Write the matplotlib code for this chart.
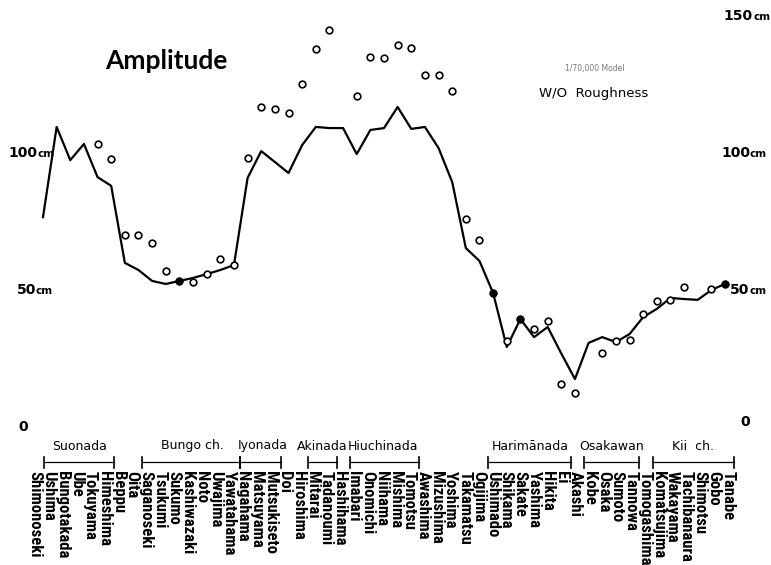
import numpy as np
import matplotlib
matplotlib.use("Agg")
from matplotlib import pyplot as plt
from matplotlib import transforms
from matplotlib import font_manager

# stations along the coast, west to east
stations = ["Shimonoseki", "Ushima", "Bungotakada", "Ube", "Tokuyama", "Himeshima",
            "Beppu", "Oita", "Saganoseki", "Tsukumi", "Sukumo", "Kashiwazaki", "Noto",
            "Uwajima", "Yawatahama", "Nagahama", "Matsuyama", "Mutsukiseto", "Doi",
            "Hiroshima", "Mitarai", "Tadanoumi", "Hashihama", "Imabari", "Onomichi",
            "Niihama", "Mishima", "Tomotsu", "Awashima", "Mizushima", "Yoshima",
            "Takamatsu", "Ogijima", "Ushimado", "Shikama", "Sakate", "Yashima", "Hikita",
            "Ei", "Akashi", "Kobe", "Osaka", "Sumoto", "Tannowa", "Tomogashima",
            "Komatsujima", "Wakayama", "Tachibanaura", "Shimotsu", "Gobo", "Tanabe"]

# observed amplitude (cm) - solid line
observed = [76.6, 109.5, 97.4, 103.3, 91.2, 88.0, 59.9, 57.3, 53.3, 52.2,
            53.3, 54.4, 55.8, 57.3, 59.1, 90.9, 100.7, 96.7, 92.7, 102.9,
            109.5, 109.1, 109.1, 99.6, 108.4, 109.1, 116.8, 108.8, 109.5, 101.8,
            89.4, 65.3, 60.6, 48.9, 29.2, 39.4, 32.8, 36.5, 26.8, 17.5,
            30.7, 32.8, 31.0, 33.9, 40.1, 43.1, 47.1, 46.7, 46.4, 50.0, 52.2]

# model amplitude (cm) without roughness - open circles
nan = np.nan
model = [nan, nan, nan, nan, 103.3, 97.8, 70.1, 70.1, 67.2, 56.9,
         53.3, 52.9, 55.8, 61.3, 59.1, 98.2, 116.8, 116.1, 114.6, 125.2,
         138.0, 144.9, nan, 120.8, 135.0, 134.7, 139.4, 138.3, 128.5, 128.5,
         122.6, 75.9, 68.2, 48.9, 31.4, 39.4, 35.8, 38.7, 15.7, 12.4,
         nan, 27.0, 31.4, 31.8, 41.2, 46.0, 46.4, 51.1, nan, 50.4, 52.2]

# stations where model and observation coincide (drawn as black dots)
coincide = ["Sukumo", "Ushimado", "Sakate", "Tanabe"]

groups = ["Suonada", "Bungo ch.", "Iyonada", "Akinada", "Hiuchinada",
          "Harimānada", "Osakawan", "Kii  ch."]

W, H = 771, 565

bold_fonts = {f.name for f in font_manager.fontManager.ttflist if f.weight in (700, "bold")}
all_fonts = {f.name for f in font_manager.fontManager.ttflist}


def pick(pool, *names):
    for n in names:
        if n in pool:
            return n
    return "DejaVu Sans"


narrow = pick(bold_fonts, "Liberation Sans Narrow", "Roboto Condensed", "Archivo Narrow",
              "PT Sans Narrow", "Fira Sans Condensed", "Open Sans Condensed")
if narrow == "DejaVu Sans":
    narrow = pick(all_fonts, "Liberation Sans Narrow", "Roboto Condensed",
                  "Archivo Narrow", "PT Sans Narrow")
title_font = pick(bold_fonts, "Jost", "Futura", "League Spartan", "Lato")
label_size = 12 if narrow != "DejaVu Sans" else 8.5


def dx(px):
    return (px - 43) / 13.64


def dy(py):
    return (427 - py) / 2.74


fig = plt.figure(figsize=(W / 100, H / 100), dpi=100)
ax = fig.add_axes([0, 0, 1, 1])
ax.set_xlim(dx(0), dx(W))
ax.set_ylim(dy(H), dy(0))
ax.axis("off")

x = np.arange(len(stations))
ax.plot(x, observed, color="black", lw=1.6, zorder=2)
ax.plot(x, model, linestyle="none", marker="o", ms=4.8, mfc="white",
        mec="black", mew=1.2, zorder=3)
ci = [stations.index(s) for s in coincide]
ax.plot(ci, [model[i] for i in ci], linestyle="none", marker="o", ms=4.5,
        color="black", zorder=4)

# y scale labels
bt = transforms.blended_transform_factory(ax.transAxes, ax.transData)
num_kw = dict(fontsize=10, fontweight="bold", family="DejaVu Sans",
              transform=bt, va="center")
cm_kw = dict(fontsize=7.5, fontweight="bold", family="DejaVu Sans",
             transform=bt, va="center")
for val, split in [(100, 37), (50, 36)]:
    ax.text(split / W, val, str(val), ha="right", **num_kw)
    ax.text(split / W, val - 0.5, "cm", ha="left", **cm_kw)
ax.text(23 / W, 0, "0", ha="center", **num_kw)
for val, split in [(150, 753), (100, 750), (50, 749)]:
    ax.text(split / W, val, str(val), ha="right", **num_kw)
    ax.text(split / W, val - 0.5, "cm", ha="left", **cm_kw)
ax.text(745 / W, 2, "0", ha="center", **num_kw)

# titles
ax.text(dx(166), dy(61), "Amplitude", ha="center", va="center",
        fontsize=19, fontweight="bold", family=title_font)
ax.text(dx(595), dy(69), "1/70,000 Model", ha="center", va="center",
        fontsize=5.5, color="#777777", family="DejaVu Sans")
ax.text(dx(594), dy(94), "W/O  Roughness", ha="center", va="center",
        fontsize=9.5, family="DejaVu Sans")

# station names
for i, name in enumerate(stations):
    ax.text(dx(35 + 13.86 * i), dy(471), name, rotation=270, ha="center",
            va="top", fontsize=label_size, fontweight="bold",
            family=[narrow, "DejaVu Sans"])

# sea area brackets
spans = [(44, 114, 80), (142, 240, 192), (240, 281, 263), (308, 337, 322),
         (350, 419, 383), (488, 571, 530), (584, 639, 612), (653, 734, 693)]
for name, (a, b, c) in zip(groups, spans):
    ax.plot([dx(a), dx(b)], [dy(462), dy(462)], color="black", lw=0.9)
    for e in (a, b):
        ax.plot([dx(e), dx(e)], [dy(457), dy(468)], color="black", lw=1.2)
    ax.text(dx(c), dy(446), name, ha="center", va="center", fontsize=9,
            family="DejaVu Sans")

fig.savefig("out.png", dpi=100)
